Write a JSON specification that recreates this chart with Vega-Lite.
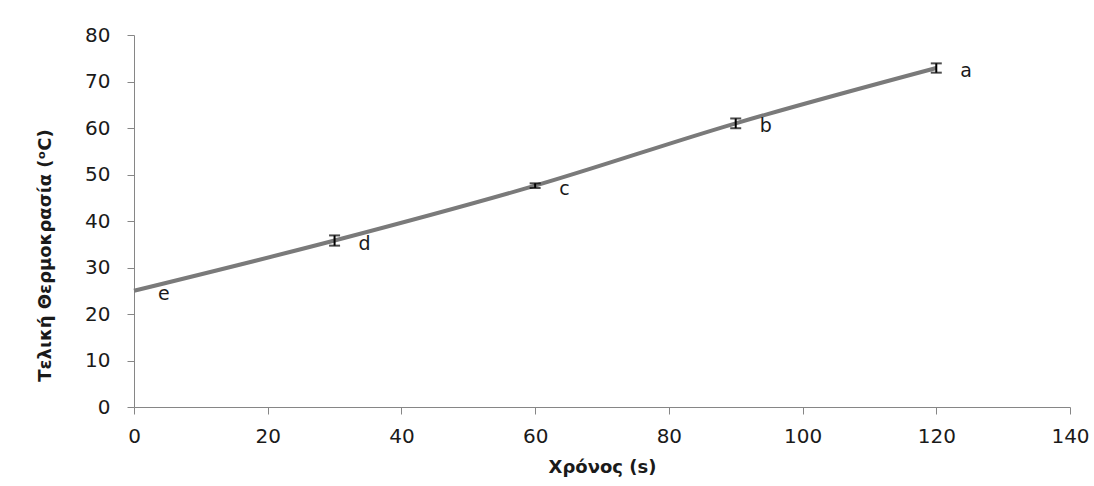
{
  "$schema": "https://vega.github.io/schema/vega-lite/v6.json",
  "width": 936,
  "height": 372,
  "autosize": {"type": "none"},
  "padding": {"left": 134, "top": 35, "right": 24, "bottom": 79},
  "background": "white",
  "config": {
    "view": {"stroke": null},
    "font": "DejaVu Sans",
    "axis": {
      "grid": false,
      "domainColor": "#868686",
      "domainWidth": 1,
      "tickColor": "#868686",
      "tickSize": 7,
      "labelFlush": false,
      "labelFont": "DejaVu Sans",
      "labelFontSize": 20,
      "labelColor": "#1a1a1a",
      "titleFont": "DejaVu Sans",
      "titleFontSize": 18,
      "titleFontWeight": "bold",
      "titleColor": "#1a1a1a"
    }
  },
  "data": {
    "values": [
      {"t": 0, "temp": 25.0, "lo": 25.0, "hi": 25.0, "label": "e"},
      {"t": 30, "temp": 35.8, "lo": 34.7, "hi": 36.9, "label": "d"},
      {"t": 60, "temp": 47.6, "lo": 47.1, "hi": 48.1, "label": "c"},
      {"t": 90, "temp": 61.0, "lo": 59.95, "hi": 62.05, "label": "b"},
      {"t": 120, "temp": 72.9, "lo": 71.9, "hi": 73.9, "label": "a"}
    ]
  },
  "encoding": {
    "x": {
      "field": "t",
      "type": "quantitative",
      "scale": {"domain": [0, 140], "nice": false},
      "axis": {"values": [0, 20, 40, 60, 80, 100, 120, 140], "title": "Χρόνος (s)", "labelPadding": 12, "titlePadding": 12}
    },
    "y": {
      "field": "temp",
      "type": "quantitative",
      "scale": {"domain": [0, 80], "nice": false},
      "axis": {
        "values": [0, 10, 20, 30, 40, 50, 60, 70, 80],
        "title": "Τελική Θερμοκρασία (ᵒC)",
        "labelPadding": 17,
        "titleX": -89,
        "titleY": 220,
        "titleAlign": "center",
        "titleBaseline": "middle",
        "titleAngle": -90
      }
    }
  },
  "layer": [
    {
      "mark": {"type": "line", "interpolate": "catmull-rom", "color": "#7a7a7a", "strokeWidth": 4}
    },
    {
      "transform": [{"filter": "datum.t > 0"}],
      "mark": {"type": "rule", "color": "black", "strokeWidth": 2},
      "encoding": {"y": {"field": "lo", "type": "quantitative"}, "y2": {"field": "hi"}}
    },
    {
      "transform": [{"filter": "datum.t > 0"}],
      "mark": {"type": "tick", "orient": "horizontal", "color": "black", "thickness": 2, "size": 11},
      "encoding": {"y": {"field": "lo", "type": "quantitative"}}
    },
    {
      "transform": [{"filter": "datum.t > 0"}],
      "mark": {"type": "tick", "orient": "horizontal", "color": "black", "thickness": 2, "size": 11},
      "encoding": {"y": {"field": "hi", "type": "quantitative"}}
    },
    {
      "mark": {"type": "text", "align": "left", "baseline": "middle", "dx": 24, "dy": 3, "fontSize": 19, "color": "#1a1a1a", "font": "DejaVu Sans"},
      "encoding": {"text": {"field": "label"}}
    }
  ]
}
